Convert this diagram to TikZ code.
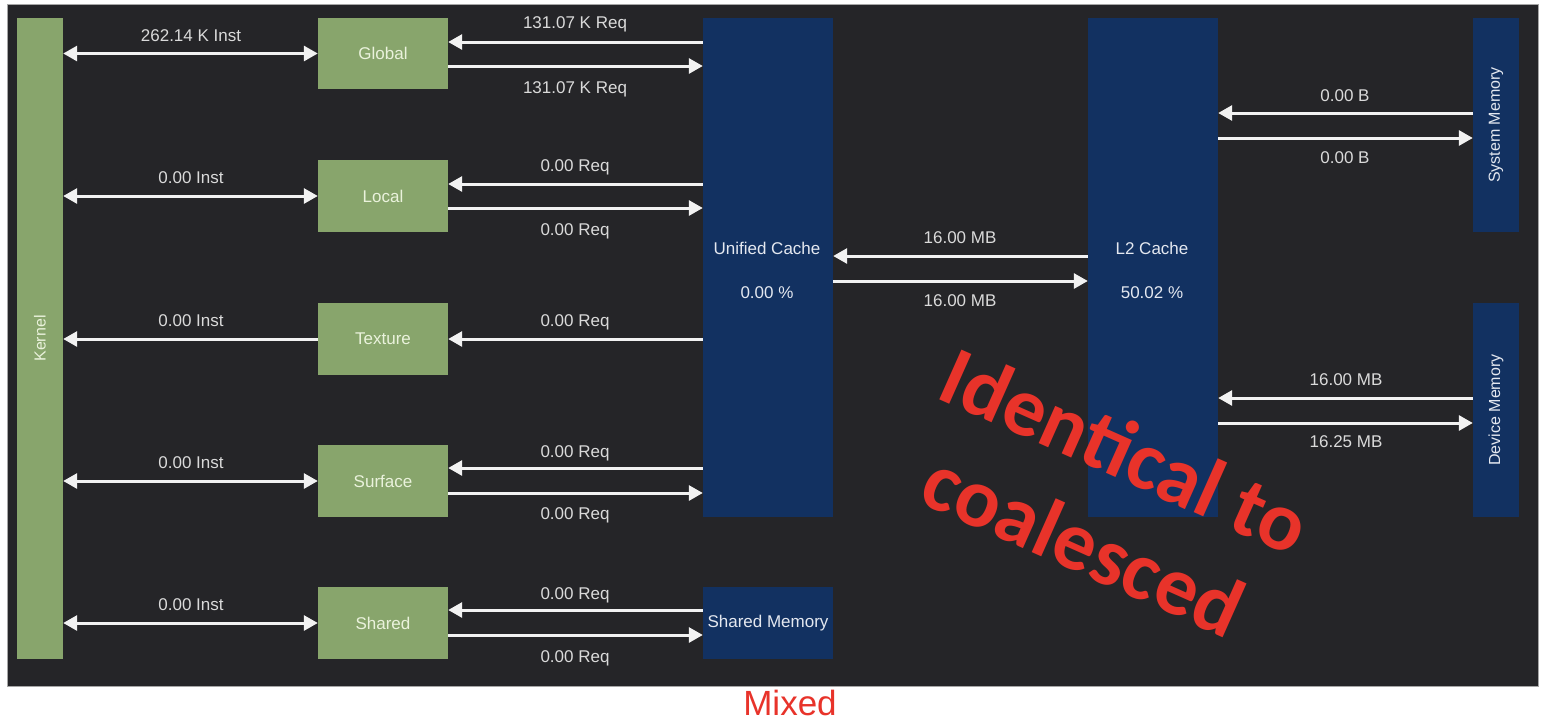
\documentclass[tikz,border=0pt]{standalone}
\usepackage{fontspec}
\setmainfont{Liberation Sans}
\newfontfamily\redfont{Carlito}
\usetikzlibrary{arrows.meta}
\definecolor{bg}{HTML}{252528}
\definecolor{gfill}{HTML}{88A56C}
\definecolor{bfill}{HTML}{123161}
\definecolor{gtxt}{HTML}{EAF2DC}
\definecolor{btxt}{HTML}{E4E8F0}
\definecolor{lbltxt}{HTML}{DADADA}
\definecolor{arrcol}{HTML}{F2F2F2}
\definecolor{redtxt}{HTML}{E8332A}
\tikzset{
  gbox/.style={fill=gfill, draw=none, inner sep=0pt, text=gtxt, font=\fontsize{17}{20}\selectfont},
  bbox/.style={fill=bfill, draw=none, inner sep=0pt, text=btxt, font=\fontsize{17}{20}\selectfont},
  lbl/.style={text=lbltxt, font=\fontsize{17}{20}\selectfont, inner sep=0pt, text height=12pt, text depth=0pt},
  arr/.style={draw=arrcol, line width=3pt, -{Triangle[length=14pt,width=15pt]}},
  darr/.style={draw=arrcol, line width=3pt, {Triangle[length=14pt,width=15pt]}-{Triangle[length=14pt,width=15pt]}}
}
\begin{document}
\begin{tikzpicture}[x=1pt,y=-1pt]
\useasboundingbox (0,0) rectangle (1542,726);
\fill[white] (0,0) rectangle (1542,726);
\filldraw[fill=bg, draw=gray!70, line width=0.8pt] (7,4) rectangle (1538,686);

% green boxes
\node[gbox, minimum width=46pt, minimum height=641pt, label={[rotate=90, text=gtxt, font=\fontsize{16}{19}\selectfont]center:Kernel}] (kernel) at (40,338.5) {};
\node[gbox, minimum width=130pt, minimum height=71pt] (global) at (383,53.5) {Global};
\node[gbox, minimum width=130pt, minimum height=72pt] (local) at (383,196) {Local};
\node[gbox, minimum width=130pt, minimum height=72pt] (texture) at (383,339) {Texture};
\node[gbox, minimum width=130pt, minimum height=72pt] (surface) at (383,481) {Surface};
\node[gbox, minimum width=130pt, minimum height=72pt] (shared) at (383,623) {Shared};

% blue boxes
\node[bbox, minimum width=130pt, minimum height=499pt] (unified) at (768,267.5) {};
\node[text=btxt, font=\fontsize{17}{20}\selectfont, align=center, inner sep=0pt] (uc) at (767,270) {Unified Cache\\[24pt]0.00 \%};
\node[bbox, minimum width=130pt, minimum height=72pt] (shmem) at (768,623) {Shared Memory};
\node[bbox, minimum width=130pt, minimum height=499pt] (l2) at (1153,267.5) {};
\node[text=btxt, font=\fontsize{17}{20}\selectfont, align=center, inner sep=0pt] (l2t) at (1152,270) {L2 Cache\\[24pt]50.02 \%};
\node[bbox, minimum width=46pt, minimum height=214pt, label={[rotate=90, text=btxt, font=\fontsize{16}{19}\selectfont]center:System Memory}] (sysmem) at (1496,125) {};
\node[bbox, minimum width=46pt, minimum height=214pt, label={[rotate=90, text=btxt, font=\fontsize{16}{19}\selectfont]center:Device Memory}] (devmem) at (1496,410) {};

% kernel connectors
\draw[darr] (kernel.east |- global.west) -- (global.west);
\draw[darr] (kernel.east |- local.west) -- (local.west);
\draw[arr] (texture.west) -- (kernel.east |- texture.west);
\draw[darr] (kernel.east |- surface.west) -- (surface.west);
\draw[darr] (kernel.east |- shared.west) -- (shared.west);
\node[lbl] (l1) at (191,35) {262.14 K Inst};
\node[lbl] (l2l) at (191,177) {0.00 Inst};
\node[lbl] (l3) at (191,320) {0.00 Inst};
\node[lbl] (l4) at (191,462) {0.00 Inst};
\node[lbl] (l5) at (191,604) {0.00 Inst};

% unified cache connectors
\draw[arr] (unified.west |- 0,42) -- (global.east |- 0,42);
\draw[arr] (global.east |- 0,66) -- (unified.west |- 0,66);
\draw[arr] (unified.west |- 0,184) -- (local.east |- 0,184);
\draw[arr] (local.east |- 0,208) -- (unified.west |- 0,208);
\draw[arr] (unified.west |- texture.east) -- (texture.east);
\draw[arr] (unified.west |- 0,468) -- (surface.east |- 0,468);
\draw[arr] (surface.east |- 0,493) -- (unified.west |- 0,493);
\draw[arr] (shmem.west |- 0,610) -- (shared.east |- 0,610);
\draw[arr] (shared.east |- 0,635) -- (shmem.west |- 0,635);
\node[lbl] (r1) at (575,22) {131.07 K Req};
\node[lbl] (r2) at (575,87) {131.07 K Req};
\node[lbl] (r3) at (575,165) {0.00 Req};
\node[lbl] (r4) at (575,229) {0.00 Req};
\node[lbl] (r5) at (575,320) {0.00 Req};
\node[lbl] (r6) at (575,451) {0.00 Req};
\node[lbl] (r7) at (575,513) {0.00 Req};
\node[lbl] (r8) at (575,593) {0.00 Req};
\node[lbl] (r9) at (575,656) {0.00 Req};

% unified <-> L2
\draw[arr] (l2.west |- 0,256) -- (unified.east |- 0,256);
\draw[arr] (unified.east |- 0,281) -- (l2.west |- 0,281);
\node[lbl] (m1) at (960,237) {16.00 MB};
\node[lbl] (m2) at (960,300) {16.00 MB};

% L2 <-> memories
\draw[arr] (sysmem.west |- 0,113) -- (l2.east |- 0,113);
\draw[arr] (l2.east |- 0,138) -- (sysmem.west |- 0,138);
\node[lbl] (s1) at (1345,95) {0.00 B};
\node[lbl] (s2) at (1345,157) {0.00 B};
\draw[arr] (devmem.west |- 0,398) -- (l2.east |- 0,398);
\draw[arr] (l2.east |- 0,423) -- (devmem.west |- 0,423);
\node[lbl] (d1) at (1346,379) {16.00 MB};
\node[lbl] (d2) at (1346,441) {16.25 MB};

% annotations
\node[text=redtxt, font=\redfont\bfseries\fontsize{84}{102}\selectfont, align=center, rotate=-24, inner sep=0pt] (ident) at (1105,497) {Identical to\\coalesced};
\node[text=redtxt, font=\fontsize{35}{40}\selectfont, inner sep=0pt] (mixed) at (790,703) {Mixed};
\end{tikzpicture}
\end{document}
